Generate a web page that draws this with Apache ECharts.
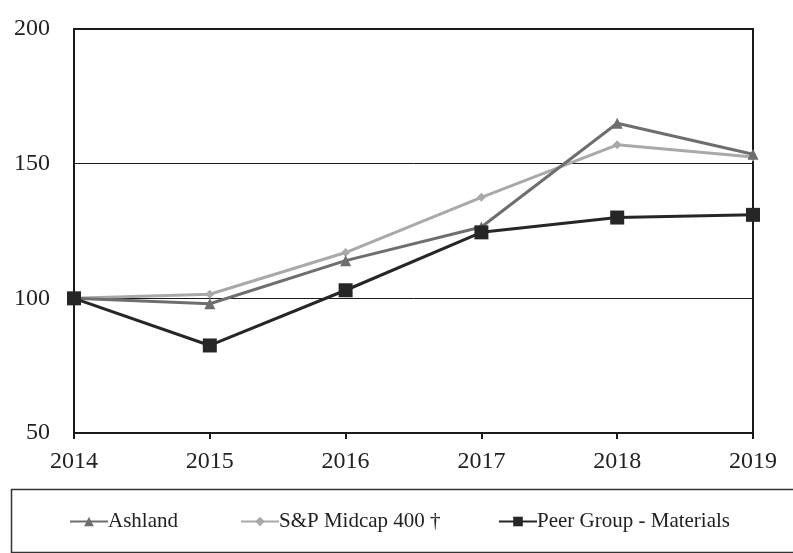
<!DOCTYPE html>
<html>
<head>
<meta charset="utf-8">
<script src="https://cdn.jsdelivr.net/npm/echarts@6/dist/echarts.min.js"></script>
<style>
html, body { margin: 0; padding: 0; background: #fff; }
#main { width: 793px; height: 553px; }
</style>
</head>
<body>
<div id="main"></div>
<script>
// data
var years = ['2014', '2015', '2016', '2017', '2018', '2019'];
var ashland = [100, 98, 114, 126.5, 165, 153.5];
var spMidcap = [100, 101.5, 117, 137.5, 157, 152.5];
var peerGroup = [100, 82.5, 103, 124.5, 130, 131];
var yTicks = [50, 100, 150, 200];
var names = ['Ashland', 'S&P Midcap 400 \u2020', 'Peer Group - Materials'];

var myChart = echarts.init(document.getElementById('main'));

var font = 'Liberation Serif';

// one legend per entry so each can sit where it is in the picture
function legendAt(name, left) {
    return {
        data: [name],
        left: left,
        top: 506,
        itemWidth: 38,
        itemHeight: 12,
        textStyle: { fontFamily: font, fontSize: 21, color: '#222', padding: [0, 0, 0, -5] }
    };
}

var option = {
    backgroundColor: '#fff',
    animation: false,
    textStyle: { fontFamily: font },
    grid: {
        left: 74,
        right: 40,
        top: 29,
        bottom: 120,
        show: true,
        borderColor: '#1a1a1a',
        borderWidth: 2
    },
    graphic: [
        {
            type: 'rect',
            left: 9,
            top: 487,
            shape: { width: 790, height: 63 },
            style: { fill: 'none', stroke: '#333', lineWidth: 1.5 }
        }
    ],
    legend: [
        legendAt(names[0], 64),
        legendAt(names[1], 235),
        legendAt(names[2], 493)
    ],
    xAxis: {
        type: 'category',
        boundaryGap: false,
        data: years,
        axisLine: { lineStyle: { color: '#1a1a1a', width: 2 } },
        axisTick: { show: true, length: 6, lineStyle: { color: '#1a1a1a', width: 2 } },
        axisLabel: { fontFamily: font, fontSize: 24, color: '#222', margin: 17 },
        splitLine: { show: false }
    },
    yAxis: {
        type: 'value',
        min: 50,
        max: 200,
        interval: 50,
        axisLine: { show: true, lineStyle: { color: '#1a1a1a', width: 2 } },
        axisTick: { show: false },
        axisLabel: {
            fontFamily: font, fontSize: 24, color: '#222', margin: 24,
            formatter: function (v) { return yTicks.indexOf(v) >= 0 ? v : ''; }
        },
        splitLine: { show: true, lineStyle: { color: '#1a1a1a', width: 1 } }
    },
    series: [
        {
            name: names[0],
            type: 'line',
            data: ashland,
            symbol: 'triangle',
            symbolSize: 11,
            lineStyle: { color: '#6e6e6e', width: 3 },
            itemStyle: { color: '#6e6e6e' },
            z: 3
        },
        {
            name: names[1],
            type: 'line',
            data: spMidcap,
            symbol: 'diamond',
            symbolSize: 9,
            lineStyle: { color: '#a9a9a9', width: 3 },
            itemStyle: { color: '#a9a9a9' },
            z: 2
        },
        {
            name: names[2],
            type: 'line',
            data: peerGroup,
            symbol: 'rect',
            symbolSize: 14,
            lineStyle: { color: '#262626', width: 3 },
            itemStyle: { color: '#262626' },
            z: 4
        }
    ]
};

myChart.setOption(option);
</script>
</body>
</html>
